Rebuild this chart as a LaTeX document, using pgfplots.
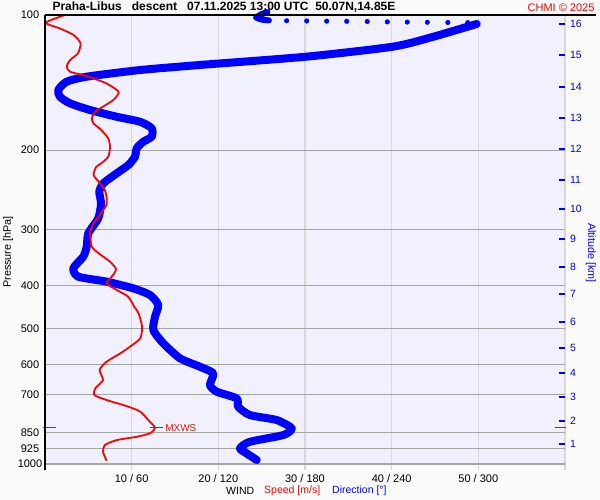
\documentclass[border=0pt]{standalone}
\usepackage{pgfplots}
\usepackage{pgfplotstable}
\pgfplotsset{compat=1.18}
\usepackage{fontspec}
\setmainfont{Liberation Sans}
\definecolor{pagebg}{RGB}{250,250,250}
\definecolor{plotbg}{RGB}{240,240,255}
\definecolor{hgrid}{RGB}{165,165,165}
\definecolor{vgrid}{RGB}{216,216,216}
\definecolor{windred}{RGB}{255,0,0}
\definecolor{windblue}{RGB}{0,0,255}
\pgfplotstableread{
p s
100 2.3
104.0 0.1
107.1 1.7
110.8 3.3
115.6 4.1
121.7 3.8
126.0 2.9
130.3 2.5
133.8 2.9
136.0 4.4
138.4 5.6
142.0 7.1
146.9 8.3
149.4 8.5
154.6 7.9
160.0 6.7
164.2 5.8
169.9 5.4
174.3 5.6
180.4 6.5
188.3 7.3
196.6 7.5
206.9 7.3
213.9 6.5
218.0 5.9
227.2 5.6
235.1 6.2
245.4 6.9
254.0 7.1
265.0 7.1
271.8 6.7
281.3 6.2
291.0 5.6
306.3 5.2
328.1 5.4
339.4 6.2
354.3 7.5
368.5 8.2
382.7 7.7
395.9 7.1
409.8 8.3
424.1 9.6
446.4 10.3
461.8 10.8
494.6 11.2
524.8 11.0
548.0 9.8
566.9 8.7
591.9 7.1
617.6 6.3
650.1 6.7
678.4 5.8
702.1 5.7
720.4 7.1
742.9 9.4
764.9 11.0
805.2 12.1
830.4 12.7
854.5 12.1
869.6 10.6
884.4 8.3
907.5 6.9
939.2 6.7
983.3 7.1
}\speedtab
\pgfplotstableread{
p d
104.7 298.9
111.8 268.8
117.6 241.1
123.8 181.2
129.2 107.3
132.6 65.8
137.2 28.9
140.8 15.0
146.9 9.2
152.1 10.4
157.3 17.3
162.8 31.2
168.5 49.6
172.9 65.8
178.8 73.9
186.6 73.9
191.5 68.1
198.1 63.5
206.9 62.3
215.9 57.7
225.3 49.6
237.1 40.4
247.5 37.6
262.7 38.8
283.6 36.9
306.3 30.0
328.1 28.9
345.3 26.5
366.6 19.6
382.7 23.1
392.6 42.7
406.2 61.1
420.4 72.7
442.5 78.4
469.8 76.2
503.1 75.0
538.5 81.9
581.6 93.5
607.3 107.3
628.2 116.5
666.8 114.2
690.2 118.9
714.2 132.7
745.6 133.8
778.1 141.9
798.2 160.4
832.9 170.8
862.0 165.0
892.2 141.9
922.9 135.0
947.0 139.6
979.7 146.6
}\dirtab
\pgfplotstableread{
p d
103.0 167.3
103.1 181.2
103.2 195.0
103.3 208.9
103.4 223.1
103.6 237.0
103.7 250.8
103.8 264.7
103.9 278.9
104.0 292.7
}\dirdotstab
\pgfplotstableread{
p d
98.5 154
99.5 150
101.3 146
102.4 150
102.8 155
}\blobtab
\begin{document}
\begin{tikzpicture}[x=1pt,y=1pt]
\fill[pagebg] (0,0) rectangle (600,500);
\useasboundingbox (0,0) rectangle (600,500);
\fill[plotbg] (45,35) rectangle (565,485);
\foreach \k in {1,...,6} {\draw[vgrid, line width=1.2pt] ({45+86.667*\k},30) -- ({45+86.667*\k},485);}
\begin{axis}[
  at={(45pt,36pt)}, anchor=south west,
  scale only axis, width=520pt, height=449pt,
  xmin=0, xmax=60, ymin=100, ymax=1000,
  ymode=log, y dir=reverse,
  axis line style={draw=none},
  clip=false,
  xtick={10,20,30,40,50},
  xticklabels={10 / 60, 20 / 120, 30 / 180, 40 / 240, 50 / 300},
  xticklabel pos=lower,
  ytick={100,200,300,400,500,600,700,850,925,1000},
  yticklabels={100,200,300,400,500,600,700,850,925,1000},
  major tick length=0pt,
  ymajorgrids,
  major y grid style={hgrid, line width=1.2pt},
  tick label style={font=\fontsize{11}{11}\selectfont},
  xticklabel style={anchor=center, yshift=-14.5pt},
  yticklabel style={anchor=center, xshift=-15pt},
]
\addplot[windblue, line width=6pt, line join=round, line cap=round] table[x expr=\thisrow{d}/6, y=p] {\blobtab};
\addplot[only marks, mark=*, mark size=2.3pt, windblue] table[x expr=\thisrow{d}/6, y=p] {\dirdotstab};
\addplot[windblue, line width=8pt, line join=round, line cap=round, smooth, tension=0.4] table[x expr=\thisrow{d}/6, y=p] {\dirtab};
\addplot[windred, line width=1.8pt, smooth, tension=0.4] table[x=s, y=p] {\speedtab};
\draw[windred, line width=1.2pt] (axis cs:12.1,830.4) -- (axis cs:13.6,830.4);
\draw[windred, line width=1.2pt] (axis cs:-0.2,830.4) -- (axis cs:1.3,830.4);
\draw[windred, line width=1.2pt] (axis cs:58.8,830.4) -- (axis cs:60.1,830.4);
\node[windred, fill=white, inner sep=0.5pt, anchor=west, font=\fontsize{10}{10}\selectfont] at (axis cs:13.8,830.4) {MXWS};
\end{axis}
\begin{axis}[
  at={(45pt,36pt)}, anchor=south west,
  scale only axis, width=520pt, height=449pt,
  xmin=0, xmax=60, ymin=100, ymax=1000,
  ymode=log, y dir=reverse,
  axis x line=none, axis y line*=right,
  y axis line style={draw=none},
  ytick={104.7,122.8,144.7,169.6,198.8,233.1,270.4,315.4,364.2,418.2,482.8,551.4,627,709,802,902.7},
  yticklabels={16,15,14,13,12,11,10,9,8,7,6,5,4,3,2,1},
  yticklabel pos=right,
  minor ytick={},
  major tick length=6pt, tick align=inside,
  major tick style={windblue, line width=1.2pt},
  tick label style={font=\fontsize{10.5}{10.5}\selectfont, windblue},
  yticklabel style={anchor=west, xshift=1.5pt},
]
\end{axis}
\draw[black, line width=1.5pt] (45,485) -- (596,485);
\draw[black, line width=1.5pt] (45,30) -- (45,485);
\node[anchor=west, font=\bfseries\fontsize{12}{12}\selectfont] at (49,492.5) {Praha-Libus\ \ \ descent\ \ \ 07.11.2025 13:00 UTC\ \ 50.07N,14.85E};
\node[anchor=east, windred, font=\fontsize{11}{11}\selectfont] at (598,492.5) {CHMI © 2025};
\node[rotate=90, font=\fontsize{10.8}{10.8}\selectfont] at (8,248) {Pressure [hPa]};
\node[rotate=-90, windblue, font=\fontsize{10.8}{10.8}\selectfont] at (591,247) {Altitude [km]};
\node[anchor=west, inner sep=0pt, font=\fontsize{10.5}{10.5}\selectfont] at (226,9) {WIND};
\node[anchor=west, inner sep=0pt, windred, font=\fontsize{10.5}{10.5}\selectfont] at (264,9) {Speed [m/s]};
\node[anchor=west, inner sep=0pt, windblue, font=\fontsize{10.5}{10.5}\selectfont] at (332,9) {Direction [°]};
\end{tikzpicture}
\end{document}
